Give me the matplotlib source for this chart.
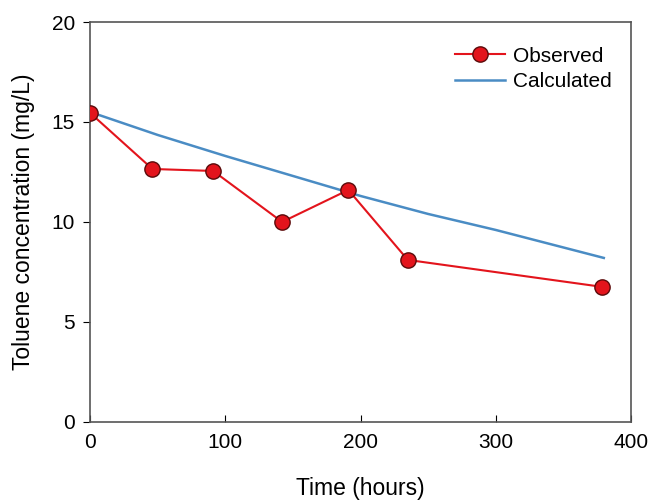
import matplotlib
matplotlib.use("Agg")
import matplotlib.pyplot as plt

plt.rcParams['font.family'] = ['Liberation Sans', 'DejaVu Sans']

# observed data
obs_time = [0, 46, 91, 142, 191, 235, 379]
obs_conc = [15.45, 12.65, 12.55, 10.0, 11.6, 8.1, 6.75]

# calculated (model) curve
calc_time = [0, 50, 100, 150, 200, 250, 300, 380]
calc_conc = [15.5, 14.35, 13.3, 12.3, 11.3, 10.4, 9.6, 8.2]

fig = plt.figure(figsize=(6.49, 5.01), dpi=100)
ax = fig.add_axes([0.139, 0.158, 0.833, 0.798])

ax.plot(calc_time, calc_conc, color='#4a8cc4', lw=1.8, label='Calculated', zorder=2)
ax.plot(obs_time, obs_conc, color='#e3141c', lw=1.5, marker='o', ms=11,
        mfc='#e3141c', mec='#5a0a0a', mew=1.0, label='Observed', zorder=3)

ax.set_xlim(0, 400)
ax.set_ylim(0, 20)
ax.set_xticks([0, 100, 200, 300, 400])
ax.set_yticks([0, 5, 10, 15, 20])
ax.tick_params(axis='x', direction='in', labelsize=15, pad=8, length=5)
ax.tick_params(axis='y', direction='out', labelsize=15, pad=6, length=5)
for s in ax.spines.values():
    s.set_color('#555555')
    s.set_linewidth(1.2)

ax.set_xlabel('Time (hours)', fontsize=16.5, labelpad=18)
ax.set_ylabel('Toluene concentration (mg/L)', fontsize=16.5, labelpad=12)

h, l = ax.get_legend_handles_labels()
ax.legend([h[1], h[0]], [l[1], l[0]], loc='upper right', bbox_to_anchor=(1.0, 0.985),
          frameon=False, fontsize=15, handlelength=2.4, handletextpad=0.4,
          labelspacing=0.3)

fig.savefig('out.png', dpi=100)
